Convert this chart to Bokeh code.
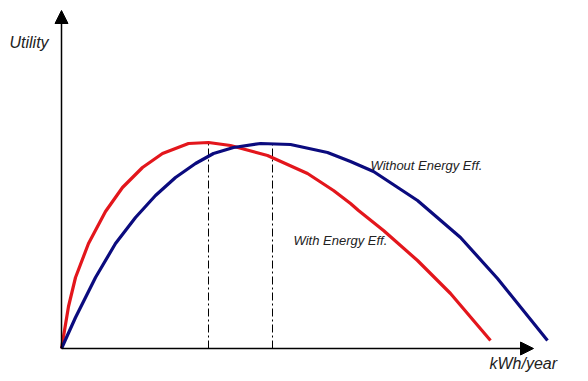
from bokeh.plotting import figure
from bokeh.models import Range1d, Arrow, NormalHead, Label
from bokeh.embed import file_html
from bokeh.resources import INLINE

# Data (arbitrary units: kWh/year vs Utility)
with_eff_x = [0, 7, 14, 27, 44, 61, 81, 101, 127, 147, 169, 206, 246, 272, 289, 297, 322, 356, 389, 429]
with_eff_y = [0, 42, 71, 105, 137, 161, 181, 195, 205, 206, 203, 193, 175, 158, 145, 138, 118, 88, 55, 8]

without_eff_x = [0, 14, 34, 54, 74, 94, 114, 134, 152, 172, 199, 229, 266, 289, 312, 356, 399, 436, 486]
without_eff_y = [0, 31, 71, 105, 131, 153, 171, 185, 195, 201, 205, 204, 196, 187, 177, 148, 111, 70, 8]

optimum_x = [147, 211]
optimum_y = [205, 205]

x_axis_end = 472
y_axis_end = 338

p = figure(width=588, height=381, output_backend="svg", toolbar_location=None,
           x_range=Range1d(-61, 527), y_range=Range1d(-33, 348),
           min_border=0, min_border_left=0, min_border_right=0,
           min_border_top=0, min_border_bottom=0)
p.xaxis.visible = False
p.yaxis.visible = False
p.xgrid.visible = False
p.ygrid.visible = False
p.outline_line_color = None
p.background_fill_color = "white"
p.border_fill_color = "white"

# vertical dash-dot guides
p.segment(x0=optimum_x, y0=[0, 0], x1=optimum_x, y1=optimum_y,
          line_color="black", line_width=1, line_dash="8 3 2 3")

# curves
p.line(with_eff_x, with_eff_y, line_color="#e3161c", line_width=3.2, line_join="round")
p.line(without_eff_x, without_eff_y, line_color="#0b0b7e", line_width=3.2, line_join="round")

# axes with arrows
p.add_layout(Arrow(end=NormalHead(size=13, fill_color="black", line_color="black"),
                   x_start=0, y_start=0, x_end=0, y_end=y_axis_end,
                   line_color="black", line_width=1.5))
p.add_layout(Arrow(end=NormalHead(size=13, fill_color="black", line_color="black"),
                   x_start=0, y_start=0, x_end=x_axis_end, y_end=0,
                   line_color="black", line_width=1.5))

font = "Liberation Sans"
txt = "#222222"
p.add_layout(Label(x=-52, y=306, text="Utility", text_font=font, text_font_style="italic",
                   text_font_size="16px", text_color=txt, text_baseline="middle", text_align="left"))
p.add_layout(Label(x=428, y=-15, text="kWh/year", text_font=font, text_font_style="italic",
                   text_font_size="16px", text_color=txt, text_baseline="middle", text_align="left"))
p.add_layout(Label(x=309, y=183, text="Without Energy Eff.", text_font=font, text_font_style="italic",
                   text_font_size="13px", text_color=txt, text_baseline="middle", text_align="left"))
p.add_layout(Label(x=232, y=108, text="With Energy Eff.", text_font=font, text_font_style="italic",
                   text_font_size="13px", text_color=txt, text_baseline="middle", text_align="left"))

open("out.html", "w").write(file_html(p, INLINE))
